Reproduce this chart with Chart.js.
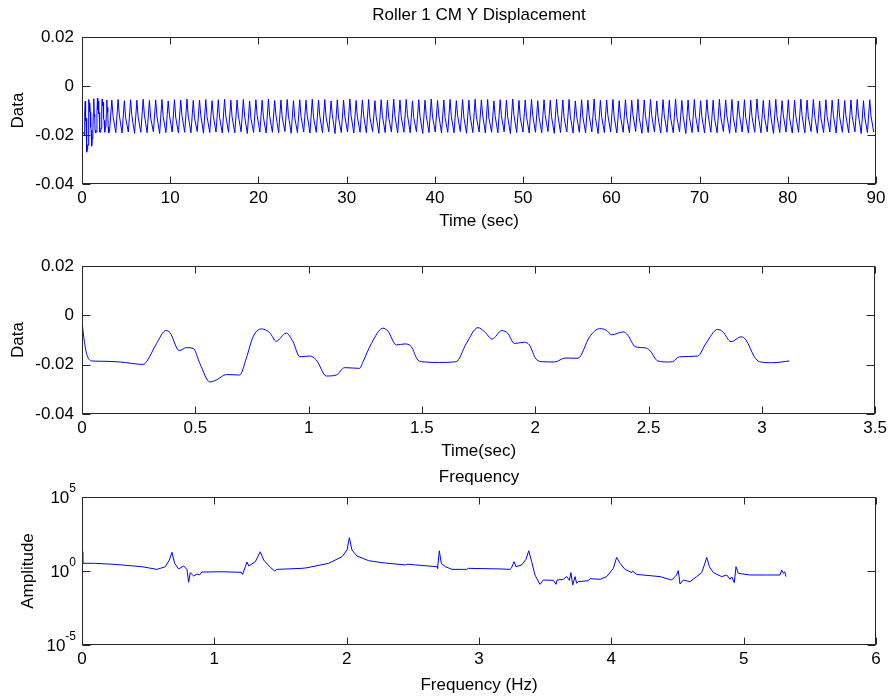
<!DOCTYPE html>
<html>
<head>
<meta charset="utf-8">
<title>Roller 1 CM Y Displacement</title>
<script src="https://cdn.jsdelivr.net/npm/chart.js@4.4.1/dist/chart.umd.min.js"></script>
<style>
  body { margin: 0; background: #fff; }
  canvas { position: absolute; left: 0; }
</style>
</head>
<body>
<canvas id="disp" width="891" height="236" style="top:0"></canvas>
<canvas id="zoom" width="891" height="230" style="top:236px"></canvas>
<canvas id="fft" width="891" height="232" style="top:466px"></canvas>
<script>
// first 3.12 s of the roller CM y displacement (sec, m)
const midTime = [0, 0.008, 0.02, 0.043, 0.08, 0.167, 0.27, 0.285, 0.329, 0.370,
  0.388, 0.429, 0.461, 0.491, 0.52, 0.564, 0.593, 0.637, 0.696, 0.725,
  0.755, 0.791, 0.828, 0.857, 0.901, 0.931, 0.961, 1.005, 1.034, 1.078,
  1.122, 1.159, 1.225, 1.240, 1.277, 1.328, 1.350, 1.387, 1.424, 1.453,
  1.482, 1.511, 1.578, 1.651, 1.696, 1.747, 1.776, 1.810, 1.852, 1.879,
  1.908, 1.952, 1.974, 2.004, 2.033, 2.085, 2.133, 2.188, 2.240, 2.284,
  2.313, 2.338, 2.388, 2.408, 2.441, 2.485, 2.504, 2.541, 2.585, 2.606,
  2.636, 2.717, 2.753, 2.805, 2.827, 2.864, 2.908, 2.930, 2.967, 2.989,
  3.048, 3.121];
const midDisp = [-0.0025, -0.0090, -0.0154, -0.0185, -0.0186, -0.0189, -0.0199, -0.0188, -0.0114, -0.0062,
  -0.0070, -0.0143, -0.0131, -0.0134, -0.0195, -0.0270, -0.0262, -0.0240, -0.0242, -0.0174,
  -0.0087, -0.0055, -0.0070, -0.0105, -0.0072, -0.0107, -0.0168, -0.0165, -0.0181, -0.0246,
  -0.0242, -0.0212, -0.0215, -0.0188, -0.0114, -0.0052, -0.0064, -0.0120, -0.0116, -0.0127,
  -0.0181, -0.0189, -0.0191, -0.0188, -0.0114, -0.0050, -0.0066, -0.0096, -0.0062, -0.0073,
  -0.0114, -0.0109, -0.0120, -0.0178, -0.0188, -0.0189, -0.0173, -0.0174, -0.0087, -0.0054,
  -0.0060, -0.0079, -0.0067, -0.0080, -0.0127, -0.0132, -0.0141, -0.0185, -0.0189, -0.0188,
  -0.0168, -0.0165, -0.0114, -0.0057, -0.0066, -0.0107, -0.0087, -0.0100, -0.0168, -0.0188,
  -0.0192, -0.0185];

// rest of the 90 s run, one entry per cycle: peak, shoulder on the way down, trough
const cycleStart = 3.121;
const cycleLen = 0.71;
const cyclePeak = [
  -.0057,-.0055,-.0060,-.0056,-.0058,-.0054,-.0059,-.0057,-.0055,-.0061,
  -.0056,-.0058,-.0053,-.0059,-.0057,-.0055,-.0060,-.0056,-.0054,-.0058,
  -.0057,-.0055,-.0061,-.0056,-.0058,-.0053,-.0059,-.0057,-.0055,-.0060,
  -.0056,-.0058,-.0054,-.0057,-.0055,-.0061,-.0056,-.0058,-.0053,-.0059,
  -.0057,-.0055,-.0060,-.0056,-.0058,-.0054,-.0057,-.0055,-.0061,-.0056,
  -.0058,-.0053,-.0059,-.0057,-.0055,-.0060,-.0056,-.0058,-.0054,-.0057,
  -.0055,-.0061,-.0056,-.0058,-.0053,-.0059,-.0057,-.0055,-.0060,-.0056,
  -.0058,-.0054,-.0057,-.0055,-.0061,-.0056,-.0058,-.0053,-.0059,-.0057,
  -.0055,-.0060,-.0056,-.0058,-.0054,-.0057,-.0055,-.0061,-.0056,-.0058,
  -.0053,-.0059,-.0057,-.0055,-.0060,-.0056,-.0058,-.0054,-.0057,-.0055,
  -.0061,-.0056,-.0058,-.0053,-.0059,-.0057,-.0055,-.0060,-.0056,-.0058,
  -.0054,-.0057,-.0055,-.0061,-.0056,-.0058,-.0053,-.0059,-.0057,-.0055,
  -.0060,-.0056];
const cycleShoulder = [
  -.0124,-.0119,-.0128,-.0121,-.0126,-.0117,-.0130,-.0122,-.0125,-.0119,
  -.0127,-.0120,-.0123,-.0129,-.0118,-.0125,-.0121,-.0128,-.0122,-.0126,
  -.0119,-.0124,-.0131,-.0120,-.0127,-.0123,-.0118,-.0126,-.0121,-.0129,
  -.0124,-.0120,-.0127,-.0122,-.0125,-.0118,-.0130,-.0123,-.0121,-.0126,
  -.0119,-.0128,-.0124,-.0120,-.0127,-.0122,-.0125,-.0117,-.0129,-.0123,
  -.0121,-.0126,-.0119,-.0128,-.0124,-.0120,-.0127,-.0122,-.0125,-.0118,
  -.0130,-.0123,-.0121,-.0126,-.0119,-.0128,-.0124,-.0120,-.0127,-.0122,
  -.0125,-.0117,-.0129,-.0123,-.0121,-.0126,-.0119,-.0128,-.0124,-.0120,
  -.0127,-.0122,-.0125,-.0118,-.0130,-.0123,-.0121,-.0126,-.0119,-.0128,
  -.0124,-.0120,-.0127,-.0122,-.0125,-.0117,-.0129,-.0123,-.0121,-.0126,
  -.0119,-.0128,-.0124,-.0120,-.0127,-.0122,-.0125,-.0118,-.0130,-.0123,
  -.0121,-.0126,-.0119,-.0128,-.0124,-.0120,-.0127,-.0122,-.0125,-.0119,
  -.0126,-.0122];
const cycleTrough = [
  -.0190,-.0192,-.0188,-.0193,-.0189,-.0191,-.0187,-.0194,-.0190,-.0188,
  -.0192,-.0189,-.0191,-.0186,-.0193,-.0190,-.0188,-.0192,-.0189,-.0191,
  -.0187,-.0194,-.0190,-.0188,-.0192,-.0189,-.0191,-.0186,-.0193,-.0190,
  -.0188,-.0192,-.0189,-.0191,-.0187,-.0194,-.0190,-.0188,-.0192,-.0189,
  -.0191,-.0186,-.0193,-.0190,-.0188,-.0192,-.0189,-.0191,-.0187,-.0194,
  -.0190,-.0188,-.0192,-.0189,-.0191,-.0186,-.0193,-.0190,-.0188,-.0192,
  -.0189,-.0191,-.0187,-.0194,-.0190,-.0188,-.0192,-.0189,-.0191,-.0186,
  -.0193,-.0190,-.0188,-.0192,-.0189,-.0191,-.0187,-.0194,-.0190,-.0188,
  -.0192,-.0189,-.0191,-.0186,-.0193,-.0190,-.0188,-.0192,-.0189,-.0191,
  -.0187,-.0194,-.0190,-.0188,-.0192,-.0189,-.0191,-.0186,-.0193,-.0190,
  -.0188,-.0192,-.0189,-.0191,-.0187,-.0194,-.0190,-.0188,-.0192,-.0189,
  -.0191,-.0186,-.0193,-.0190,-.0188,-.0192,-.0189,-.0191,-.0187,-.0194,
  -.0190,-.0188];

// amplitude spectrum (Hz, amplitude)
const freqHz = [0, 0.006, 0.10, 0.25, 0.453, 0.567, 0.63, 0.66, 0.68, 0.70,
  0.73, 0.768, 0.793, 0.806, 0.818, 0.844, 0.869, 0.887, 0.907, 1.058,
  1.204, 1.214, 1.234, 1.247, 1.26, 1.31, 1.347, 1.373, 1.423, 1.456,
  1.474, 1.662, 1.70, 1.864, 1.965, 2.003, 2.02, 2.04, 2.078, 2.166,
  2.267, 2.443, 2.46, 2.519, 2.683, 2.687, 2.70, 2.715, 2.746, 2.796,
  2.87, 2.907, 2.92, 3.159, 3.234, 3.245, 3.265, 3.28, 3.323, 3.355,
  3.376, 3.398, 3.423, 3.461, 3.486, 3.562, 3.582, 3.59, 3.637, 3.663,
  3.683, 3.695, 3.708, 3.726, 3.738, 3.75, 3.826, 3.84, 3.915, 3.965,
  4.015, 4.04, 4.066, 4.103, 4.154, 4.16, 4.191, 4.368, 4.456, 4.493,
  4.506, 4.519, 4.544, 4.595, 4.645, 4.683, 4.703, 4.721, 4.741, 4.771,
  4.834, 4.872, 4.897, 4.91, 4.929, 4.942, 4.96, 5.048, 5.174, 5.275,
  5.287, 5.30, 5.31, 5.32];
const freqAmp = [20, 3.3, 3.3, 2.8, 1.95, 1.29, 1.95, 5.5, 18.2, 3.3,
  1.38, 2.19, 1.29, 0.174, 0.776, 0.457, 0.631, 0.537, 0.851, 0.891,
  0.813, 0.589, 1.95, 4.07, 2.19, 4.27, 20, 5.5, 1.78, 1.0,
  1.29, 1.51, 1.66, 3.3, 9.33, 26.3, 178, 26.3, 10.2, 5.0,
  3.63, 2.57, 2.88, 2.57, 1.95, 1.51, 23.4, 3.3, 1.95, 1.29,
  1.29, 1.29, 1.51, 1.38, 1.29, 1.58, 4.27, 1.95, 2.57, 6.17,
  23.4, 4.27, 0.537, 0.126, 0.245, 0.234, 0.126, 0.245, 0.275, 0.417,
  0.234, 0.776, 0.112, 0.417, 0.148, 0.19, 0.224, 0.302, 0.275, 0.417,
  1.51, 8.3, 3.3, 1.29, 0.776, 1.0, 0.589, 0.417, 0.245, 0.537,
  1.05, 0.132, 0.245, 0.19, 0.417, 0.776, 2.57, 8.3, 1.95, 0.776,
  0.417, 0.537, 0.275, 0.398, 0.162, 1.95, 0.692, 0.537, 0.537, 0.537,
  1.17, 0.692, 0.891, 0.417];

// tick values
const dispTicks = [-0.04, -0.02, 0, 0.02];
const runTicks = [0, 10, 20, 30, 40, 50, 60, 70, 80, 90];
const zoomTicks = [0, 0.5, 1, 1.5, 2, 2.5, 3, 3.5];
const freqTicks = [0, 1, 2, 3, 4, 5, 6];
const ampTicks = [1e-5, 1, 1e5];

const FAMILY = "'Liberation Sans', Arial, Helvetica, sans-serif";
const FONT = { family: FAMILY, size: 17 };
const AXIS = '#262626';

// matlab style box: full frame, inward ticks, centred title, 10^n labels
const matlabAxes = {
  id: 'matlabAxes',
  afterDraw(chart, args, opts) {
    const { ctx, chartArea: a, scales: { x, y } } = chart;
    const L = Math.round(a.left) + 0.5, R = Math.round(a.right) - 0.5;
    const T = Math.round(a.top) + 0.5, B = Math.round(a.bottom) - 0.5;
    ctx.save();
    ctx.strokeStyle = AXIS;
    ctx.lineWidth = 1;
    ctx.beginPath();
    x.ticks.forEach(t => {
      const px = Math.round(x.getPixelForValue(t.value)) + 0.5;
      ctx.moveTo(px, T); ctx.lineTo(px, T + 7);
      ctx.moveTo(px, B); ctx.lineTo(px, B - 7);
    });
    y.ticks.forEach(t => {
      const py = Math.round(y.getPixelForValue(t.value)) + 0.5;
      ctx.moveTo(L, py); ctx.lineTo(L + 8, py);
      ctx.moveTo(R, py); ctx.lineTo(R - 8, py);
    });
    ctx.stroke();
    ctx.strokeRect(L, T, R - L, B - T);

    ctx.fillStyle = '#000';
    if (opts.title) {
      ctx.font = FONT.size + 'px ' + FAMILY;
      ctx.textAlign = 'center';
      ctx.textBaseline = 'middle';
      ctx.fillText(opts.title, (a.left + a.right) / 2, opts.titleY);
    }
    if (opts.powers) {
      ctx.textAlign = 'left';
      ctx.textBaseline = 'middle';
      y.ticks.forEach(t => {
        const py = y.getPixelForValue(t.value);
        const exp = String(Math.round(Math.log10(t.value)));
        ctx.font = '17px ' + FAMILY;
        const wBase = ctx.measureText('10').width;
        ctx.font = '12px ' + FAMILY;
        const wExp = ctx.measureText(exp).width;
        const right = a.left - 6;
        ctx.font = '17px ' + FAMILY;
        ctx.fillText('10', right - wExp - wBase, py + 1);
        ctx.font = '12px ' + FAMILY;
        ctx.fillText(exp, right - wExp, py - 8);
      });
    }
    ctx.restore();
  }
};

function fixTicks(list) {
  return scale => { scale.ticks = list.map(v => ({ value: v })); };
}

function axesChart(id, cfg) {
  const ctx = document.getElementById(id).getContext('2d');
  const h = ctx.canvas.height;
  return new Chart(ctx, {
    type: 'line',
    data: {
      datasets: [{
        data: cfg.points,
        borderColor: '#0000ff',
        borderWidth: 1,
        pointRadius: 0,
        tension: 0,
        cubicInterpolationMode: cfg.smooth ? 'monotone' : 'default'
      }]
    },
    options: {
      responsive: false,
      animation: false,
      devicePixelRatio: 1,
      layout: { padding: { top: cfg.areaTop, right: 15, left: 0, bottom: 0 } },
      plugins: {
        legend: { display: false },
        tooltip: { enabled: false },
        matlabAxes: { title: cfg.title, titleY: cfg.titleY, powers: cfg.log }
      },
      scales: {
        x: {
          type: 'linear',
          min: cfg.xTicks[0],
          max: cfg.xTicks[cfg.xTicks.length - 1],
          afterBuildTicks: fixTicks(cfg.xTicks),
          afterFit: s => { s.height = h - cfg.areaBottom; },
          grid: { display: false, drawTicks: false },
          border: { display: false },
          ticks: { padding: 4, font: FONT, color: '#000', maxRotation: 0, autoSkip: false, callback: v => String(v) },
          title: { display: true, text: cfg.xLabel, font: FONT, color: '#000', padding: { top: 0, bottom: cfg.xTitlePad } }
        },
        y: {
          type: cfg.log ? 'logarithmic' : 'linear',
          min: cfg.yTicks[0],
          max: cfg.yTicks[cfg.yTicks.length - 1],
          afterBuildTicks: fixTicks(cfg.yTicks),
          afterFit: s => { s.width = 82; },
          grid: { display: false, drawTicks: false },
          border: { display: false },
          ticks: { padding: 8, font: FONT, color: '#000', autoSkip: false, callback: v => cfg.log ? '' : String(v) },
          title: { display: true, text: cfg.yLabel, font: FONT, color: '#000', padding: { top: cfg.yTitlePad, bottom: 0 } }
        }
      }
    },
    plugins: [matlabAxes]
  });
}

const zoomPoints = midTime.map((t, i) => ({ x: t, y: midDisp[i] }));
const runPoints = zoomPoints.slice();
cyclePeak.forEach((p, k) => {
  const t0 = cycleStart + k * cycleLen;
  runPoints.push({ x: t0 + 0.26, y: p });
  runPoints.push({ x: t0 + 0.40, y: cycleShoulder[k] });
  runPoints.push({ x: t0 + cycleLen, y: cycleTrough[k] });
});
const freqPoints = freqHz.map((f, i) => ({ x: f, y: freqAmp[i] }));

axesChart('disp', {
  points: runPoints, smooth: false,
  xTicks: runTicks, yTicks: dispTicks,
  xLabel: 'Time (sec)', yLabel: 'Data',
  title: 'Roller 1 CM Y Displacement', titleY: 15,
  areaTop: 37, areaBottom: 184, xTitlePad: 4, yTitlePad: 8
});

axesChart('zoom', {
  points: zoomPoints, smooth: true,
  xTicks: zoomTicks, yTicks: dispTicks,
  xLabel: 'Time(sec)', yLabel: 'Data',
  areaTop: 30, areaBottom: 178, xTitlePad: 4, yTitlePad: 8
});

axesChart('fft', {
  points: freqPoints, smooth: false, log: true,
  xTicks: freqTicks, yTicks: ampTicks,
  xLabel: 'Frequency (Hz)', yLabel: 'Amplitude',
  title: 'Frequency', titleY: 11,
  areaTop: 31, areaBottom: 179, xTitlePad: 2, yTitlePad: 18
});
</script>
</body>
</html>
